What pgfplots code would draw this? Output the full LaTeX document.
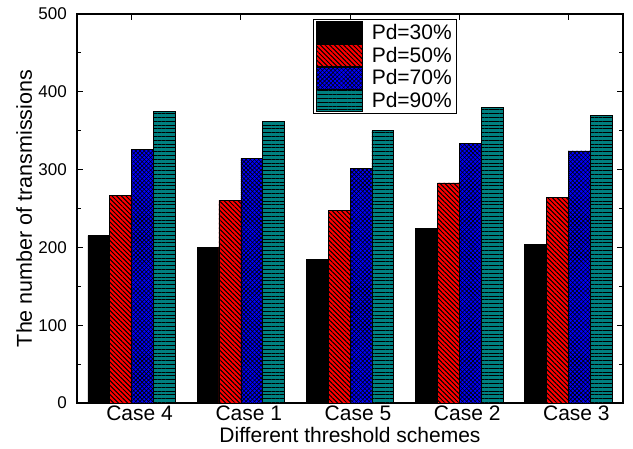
\documentclass[border=0pt]{standalone}
\usepackage{pgfplots}
\pgfplotsset{compat=1.18}
\usepackage{fontspec}
\setmainfont{Liberation Sans}
\usetikzlibrary{patterns,patterns.meta}
\definecolor{tealc}{RGB}{0,128,128}
\pgfplotsset{
  mybar/.style={ybar, bar width=0.2, draw=black, line width=0.6pt,
    legend image code/.code={\draw[##1] (0pt,-11pt) rectangle (46pt,11pt);}},
}
\begin{document}
\begin{tikzpicture}
\begin{axis}[
  name=ax,
  width=546pt, height=389pt, scale only axis,
  xmin=-0.5, xmax=4.5, ymin=0, ymax=500,
  xtick={0,1,2,3,4},
  xticklabels={Case 4,Case 1,Case 5,Case 2,Case 3},
  ytick={0,100,...,500}, minor y tick num=1,
  tick align=inside,
  axis line style={line width=1.4pt},
  every tick/.style={black, line width=1pt},
  major tick length=6pt, minor tick length=4pt,
  /pgf/number format/assume math mode=true,
  yticklabel style={font=\fontsize{17}{19}\selectfont, anchor=east, inner sep=0pt, xshift=-10pt},
  xticklabel style={font=\fontsize{21}{23}\selectfont, anchor=base, inner sep=0pt, xshift=8pt, yshift=-17pt},
  xlabel={Different threshold schemes},
  ylabel={The number of transmissions},
  every axis x label/.style={at={(axis description cs:0.5,0)}, anchor=base, inner sep=0pt, yshift=-39pt, font=\fontsize{21}{24}\selectfont},
  every axis y label/.style={at={([xshift=-45pt]axis description cs:0,0.5)}, rotate=90, anchor=base, inner sep=0pt, font=\fontsize{21.5}{24}\selectfont},
  legend style={at={(0.432,0.987)}, anchor=north west,
    font=\fontsize{21}{24}\selectfont, draw=black, line width=0.6pt,
    inner xsep=3pt, inner ysep=2pt, row sep=0pt, column sep=7pt,
    nodes={inner sep=2pt}},
  legend cell align=left,
]
\addplot[mybar, bar shift=-0.3, fill=black] coordinates
  {(0,215) (1,200) (2,185) (3,224) (4,204)};
\addplot[mybar, bar shift=-0.1, fill=red,
  postaction={pattern={Lines[angle=-45,distance=3.3pt,line width=1pt]}, pattern color=black}] coordinates
  {(0,267) (1,260) (2,248) (3,283) (4,264)};
\addplot[mybar, bar shift=0.1, fill=blue,
  postaction={pattern={Lines[angle=45,distance=3pt,line width=0.6pt]}, pattern color=black},
  postaction={pattern={Lines[angle=-45,distance=3pt,line width=0.6pt]}, pattern color=black}] coordinates
  {(0,326) (1,314) (2,302) (3,334) (4,324)};
\addplot[mybar, bar shift=0.3, fill=tealc,
  postaction={pattern={Lines[angle=0,distance=3.8pt,line width=1pt]}, pattern color=black}] coordinates
  {(0,375) (1,362) (2,350) (3,380) (4,370)};
\legend{Pd=30\%,Pd=50\%,Pd=70\%,Pd=90\%}
\end{axis}
\pgfresetboundingbox
\path[use as bounding box] ([xshift=-77pt,yshift=-45pt]ax.south west) rectangle ([xshift=10pt,yshift=14pt]ax.north east);
\end{tikzpicture}
\end{document}
